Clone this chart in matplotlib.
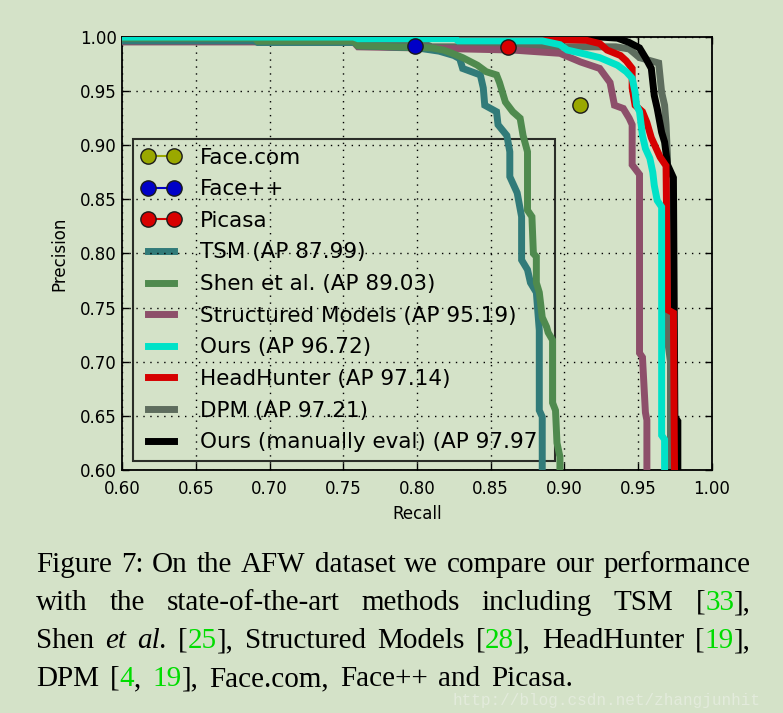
import matplotlib
matplotlib.use("Agg")
import matplotlib.pyplot as plt
from matplotlib.transforms import IdentityTransform

BG = "#d4e2c8"

# --- data (recall, precision) ---
tsm_recall = [0.0, 0.69, 0.692, 0.758, 0.760, 0.80, 0.815, 0.825, 0.829, 0.831, 0.843, 0.845, 0.846, 0.854,
              0.855, 0.861, 0.863, 0.863, 0.868, 0.871, 0.871, 0.875, 0.877, 0.881, 0.883, 0.883, 0.885, 0.885]
tsm_precision = [0.9965, 0.9965, 0.995, 0.995, 0.992, 0.990, 0.987, 0.983, 0.980, 0.971, 0.965, 0.953, 0.937, 0.931,
                 0.919, 0.909, 0.894, 0.871, 0.856, 0.834, 0.794, 0.785, 0.773, 0.764, 0.729, 0.655, 0.649, 0.55]

shen_recall = [0.0, 0.69, 0.692, 0.757, 0.760, 0.81, 0.818, 0.822, 0.831, 0.841, 0.847, 0.854, 0.856, 0.860,
               0.865, 0.870, 0.872, 0.875, 0.875, 0.878, 0.879, 0.881, 0.881, 0.883, 0.885, 0.888, 0.889,
               0.892, 0.892, 0.894, 0.895, 0.897, 0.897]
shen_precision = [0.999, 0.999, 0.9962, 0.9962, 0.992, 0.990, 0.988, 0.986, 0.981, 0.974, 0.968, 0.965, 0.958, 0.940,
                  0.931, 0.925, 0.909, 0.894, 0.840, 0.834, 0.800, 0.797, 0.773, 0.764, 0.741, 0.732, 0.727,
                  0.720, 0.662, 0.655, 0.625, 0.612, 0.55]

struct_recall = [0.0, 0.757, 0.760, 0.80, 0.865, 0.897, 0.911, 0.924, 0.931, 0.934, 0.940, 0.944, 0.946,
                 0.946, 0.951, 0.951, 0.953, 0.955, 0.956, 0.956]
struct_precision = [0.9955, 0.9955, 0.991, 0.990, 0.988, 0.985, 0.977, 0.971, 0.958, 0.937, 0.934, 0.925, 0.919,
                    0.882, 0.873, 0.708, 0.704, 0.653, 0.646, 0.55]

ours_recall = [0.0, 0.757, 0.760, 0.826, 0.828, 0.885, 0.897, 0.902, 0.915, 0.924, 0.936, 0.942, 0.946, 0.948,
               0.949, 0.951, 0.953, 0.955, 0.958, 0.960, 0.961, 0.963, 0.966, 0.966, 0.968, 0.968]
ours_precision = [1.0, 1.0, 0.9985, 0.9985, 0.9965, 0.9965, 0.993, 0.988, 0.984, 0.981, 0.974, 0.968, 0.962, 0.949,
                  0.937, 0.931, 0.909, 0.897, 0.888, 0.875, 0.863, 0.849, 0.843, 0.632, 0.628, 0.55]

hh_recall = [0.0, 0.888, 0.889, 0.915, 0.924, 0.929, 0.938, 0.942, 0.946, 0.946, 0.948, 0.953, 0.956, 0.959,
             0.962, 0.965, 0.969, 0.970, 0.974, 0.975]
hh_precision = [1.0, 1.0, 0.998, 0.997, 0.994, 0.988, 0.983, 0.978, 0.971, 0.953, 0.937, 0.931, 0.921, 0.907,
                0.898, 0.889, 0.881, 0.748, 0.745, 0.55]

dpm_recall = [0.0, 0.80, 0.81, 0.935, 0.944, 0.951, 0.964, 0.966, 0.968, 0.969, 0.970, 0.970, 0.972, 0.972]
dpm_precision = [0.9965, 0.9965, 0.991, 0.991, 0.989, 0.981, 0.976, 0.949, 0.937, 0.919, 0.888, 0.72, 0.70, 0.55]

manual_recall = [0.0, 0.925, 0.936, 0.944, 0.951, 0.955, 0.959, 0.961, 0.963, 0.966, 0.968, 0.970, 0.974,
                 0.975, 0.977, 0.977]
manual_precision = [1.0, 1.0, 0.999, 0.995, 0.990, 0.981, 0.971, 0.946, 0.934, 0.912, 0.903, 0.882, 0.870,
                    0.649, 0.645, 0.55]

point_names = ["Face.com", "Face++", "Picasa"]
point_recall = [0.9105, 0.799, 0.862]
point_precision = [0.937, 0.992, 0.991]
point_colors = ["#9aa800", "#0000c8", "#d80000"]

curves = [
    ("TSM (AP 87.99)", tsm_recall, tsm_precision, "#317b79", 6),
    ("Shen et al. (AP 89.03)", shen_recall, shen_precision, "#4f8a4e", 7),
    ("Structured Models (AP 95.19)", struct_recall, struct_precision, "#8d4f6a", 5),
    ("Ours (AP 96.72)", ours_recall, ours_precision, "#00e2c8", 8),
    ("HeadHunter (AP 97.14)", hh_recall, hh_precision, "#d60000", 4),
    ("DPM (AP 97.21)", dpm_recall, dpm_precision, "#5e6d5e", 2),
    ("Ours (manually eval) (AP 97.97)", manual_recall, manual_precision, "#000000", 3),
]

ticks = [0.60, 0.65, 0.70, 0.75, 0.80, 0.85, 0.90, 0.95, 1.00]

fig = plt.figure(figsize=(7.83, 7.13), dpi=100, facecolor=BG)
ax = fig.add_axes([0.156, 0.341, 0.753, 0.607])
ax.set_facecolor(BG)

for name, r, p, c, z in curves:
    ax.plot(r, p, color=c, lw=5, label=name, zorder=z, solid_joinstyle="miter")

for name, r, p, c in zip(point_names, point_recall, point_precision, point_colors):
    ax.plot([r], [p], "o-", color=c, mec="#1a1a1a", mew=1, ms=11, lw=1.5, label=name, zorder=10)

ax.set_xlim(0.6, 1.0)
ax.set_ylim(0.6, 1.0)
ax.set_xticks(ticks)
ax.set_yticks(ticks)
ax.set_xticklabels(["%.2f" % t for t in ticks])
ax.set_yticklabels(["%.2f" % t for t in ticks])
ax.tick_params(direction="in", top=True, right=True, length=5, width=1, labelsize=12)
ax.tick_params(axis="x", pad=7)
ax.tick_params(axis="y", pad=4)
ax.grid(True, color="black", linestyle=(0, (1, 4)), linewidth=1)
for s in ax.spines.values():
    s.set_linewidth(1.3)
ax.set_xlabel("Recall", fontsize=12, labelpad=5)
ax.set_ylabel("Precision", fontsize=12, labelpad=8)

handles, labels = ax.get_legend_handles_labels()
order = [7, 8, 9, 0, 1, 2, 3, 4, 5, 6]
leg = ax.legend([handles[i] for i in order], [labels[i] for i in order],
                loc="lower left", bbox_to_anchor=(0.019, 0.021), borderaxespad=0,
                fontsize=15.5, numpoints=2, handlelength=1.8, handletextpad=0.9,
                labelspacing=0.54, borderpad=0.4, fancybox=False,
                edgecolor="black", facecolor="none", framealpha=None)
leg.get_frame().set_linewidth(1.5)
leg.set_zorder(1)

# --- caption, justified like the paper ---
renderer = fig.canvas.get_renderer()
GREEN = "#00dc00"
FS = 21
LEFT, RIGHT = 36, 751

caption_lines = [
    ([[("Figure", "k", "normal")], [("7:", "k", "normal")], [("On", "k", "normal")], [("the", "k", "normal")],
      [("AFW", "k", "normal")], [("dataset", "k", "normal")], [("we", "k", "normal")], [("compare", "k", "normal")],
      [("our", "k", "normal")], [("performance", "k", "normal")]], 572, True),
    ([[("with", "k", "normal")], [("the", "k", "normal")], [("state-of-the-art", "k", "normal")],
      [("methods", "k", "normal")], [("including", "k", "normal")], [("TSM", "k", "normal")],
      [("[", "k", "normal"), ("33", GREEN, "normal"), ("],", "k", "normal")]], 610, True),
    ([[("Shen", "k", "normal")], [("et", "k", "italic")], [("al.", "k", "italic")],
      [("[", "k", "normal"), ("25", GREEN, "normal"), ("],", "k", "normal")], [("Structured", "k", "normal")],
      [("Models", "k", "normal")], [("[", "k", "normal"), ("28", GREEN, "normal"), ("],", "k", "normal")],
      [("HeadHunter", "k", "normal")], [("[", "k", "normal"), ("19", GREEN, "normal"), ("],", "k", "normal")]], 648, True),
    ([[("DPM", "k", "normal")], [("[", "k", "normal"), ("4", GREEN, "normal"), (",", "k", "normal")],
      [("19", GREEN, "normal"), ("],", "k", "normal")], [("Face.com,", "k", "normal")], [("Face++", "k", "normal")],
      [("and", "k", "normal")], [("Picasa.", "k", "normal")]], 686, False),
]


def seg_width(txt, style):
    t = fig.text(0, 0, txt, fontsize=FS, family="Liberation Serif", style=style, transform=IdentityTransform())
    w = t.get_window_extent(renderer=renderer).width
    t.remove()
    return w


space_w = seg_width("a b", "normal") - seg_width("ab", "normal")
for words, y_img, justify in caption_lines:
    widths = [sum(seg_width(s, st) for s, c, st in w) for w in words]
    if justify:
        gap = (RIGHT - LEFT - sum(widths)) / (len(words) - 1)
    else:
        gap = space_w * 1.5
    x = LEFT
    y = 713 - y_img
    for w, ww in zip(words, widths):
        xx = x
        for s, c, st in w:
            fig.text(xx, y, s, fontsize=FS, family="Liberation Serif", style=st, color=c,
                     transform=IdentityTransform(), va="baseline", ha="left", zorder=2)
            xx += seg_width(s, st)
        x += ww + gap

fig.text(452, 713 - 705, "http://blog.csdn.net/zhangjunhit", fontsize=11.5, family="Liberation Mono",
         color="#e3ebdc", transform=IdentityTransform(), va="baseline", ha="left", zorder=1)

fig.savefig("out.png", dpi=100, facecolor=BG)
